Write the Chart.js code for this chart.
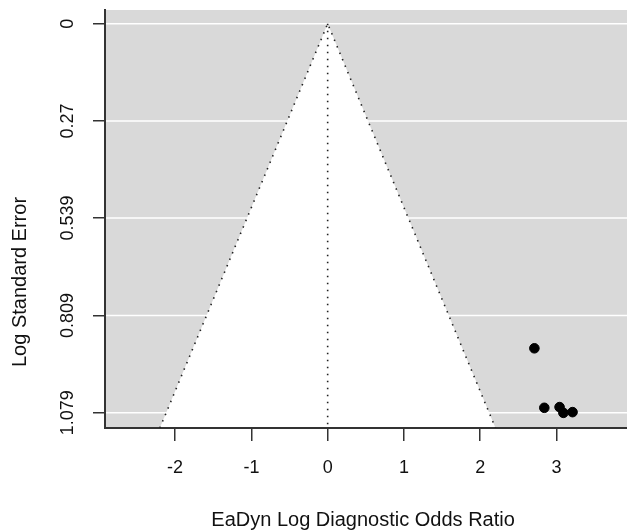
<!DOCTYPE html>
<html>
<head>
<meta charset="utf-8">
<script src="https://cdn.jsdelivr.net/npm/chart.js@4/dist/chart.umd.min.js"></script>
<style>
  html, body { margin: 0; padding: 0; background: #fff; }
  #wrap { width: 627px; height: 530px; }
</style>
</head>
<body>
<div id="wrap"><canvas id="grafico" width="627" height="530"></canvas></div>
<script>
// studies: log DOR vs standard error
const studyX = [2.71, 2.84, 3.04, 3.09, 3.21];
const studyY = [0.90, 1.065, 1.063, 1.079, 1.077];

// funnel edges and the centre line
const funnelX = [-2.2, 0, 2.2];
const funnelY = [1.121, 0, 1.121];
const centreX = [0, 0];
const centreY = [0, 1.121];

const xTicks = [-2, -1, 0, 1, 2, 3];
const yTicks = [0, 0.27, 0.539, 0.809, 1.079];
const yTickLabels = ['0', '0.27', '0.539', '0.809', '1.079'];

const xTitle = 'EaDyn Log Diagnostic Odds Ratio';
const yTitle = 'Log Standard Error';

const FONT = '"Liberation Sans", Arial, sans-serif';
const pts = (xs, ys) => xs.map((x, i) => ({ x: x, y: ys[i] }));

// gray panel (runs to the right edge of the canvas), white grid and funnel
const fondo = {
    id: 'fondo',
    beforeDraw(chart) {
        const { ctx, chartArea: a, scales: { x, y } } = chart;
        const right = chart.width;
        ctx.save();
        ctx.fillStyle = '#fff';
        ctx.fillRect(0, 0, chart.width, chart.height);
        ctx.fillStyle = '#d9d9d9';
        ctx.fillRect(a.left, a.top, right - a.left, a.bottom - a.top);
        ctx.strokeStyle = '#fff';
        ctx.lineWidth = 1.5;
        yTicks.forEach(v => {
            const py = y.getPixelForValue(v);
            ctx.beginPath();
            ctx.moveTo(a.left, py);
            ctx.lineTo(right, py);
            ctx.stroke();
        });
        ctx.beginPath();
        funnelX.forEach((v, i) => {
            const px = x.getPixelForValue(v), py = y.getPixelForValue(funnelY[i]);
            if (i === 0) ctx.moveTo(px, py); else ctx.lineTo(px, py);
        });
        ctx.closePath();
        ctx.fillStyle = '#fff';
        ctx.fill();
        ctx.restore();
    },
    afterDraw(chart) {
        const { ctx, chartArea: a, scales: { y } } = chart;
        ctx.save();
        ctx.strokeStyle = '#333';
        ctx.lineWidth = 2;
        ctx.beginPath();
        ctx.moveTo(a.right - 1, a.bottom);
        ctx.lineTo(chart.width, a.bottom);
        ctx.stroke();
        ctx.fillStyle = '#111';
        ctx.textAlign = 'center';
        ctx.textBaseline = 'middle';
        ctx.font = '18px ' + FONT;
        yTicks.forEach((v, i) => {
            ctx.save();
            ctx.translate(68, y.getPixelForValue(v));
            ctx.rotate(-Math.PI / 2);
            ctx.fillText(yTickLabels[i], 0, 0);
            ctx.restore();
        });
        ctx.font = '20px ' + FONT;
        ctx.translate(20, 282);
        ctx.rotate(-Math.PI / 2);
        ctx.fillText(yTitle, 0, 0);
        ctx.restore();
    }
};

const dotted = {
    type: 'line',
    borderColor: '#222',
    borderWidth: 1.6,
    borderDash: [1.5, 5.5],
    pointRadius: 0,
    fill: false,
    tension: 0
};

new Chart(document.getElementById('grafico').getContext('2d'), {
    type: 'scatter',
    data: {
        datasets: [
            Object.assign({ data: pts(funnelX, funnelY) }, dotted),
            Object.assign({ data: pts(centreX, centreY) }, dotted),
            {
                data: pts(studyX, studyY),
                backgroundColor: '#000',
                borderColor: '#000',
                pointRadius: 4.8,
                pointHoverRadius: 4.8
            }
        ]
    },
    options: {
        responsive: false,
        animation: false,
        events: [],
        layout: { padding: { top: 10, right: 0, left: 0, bottom: 0 } },
        plugins: { legend: { display: false }, tooltip: { enabled: false } },
        scales: {
            x: {
                type: 'linear',
                min: -2.919,
                max: 3.848,
                afterBuildTicks: s => { s.ticks = xTicks.map(v => ({ value: v })); },
                afterFit: s => { s.height = 102; },
                grid: { drawOnChartArea: false, tickLength: 13, color: '#333', lineWidth: 1.5 },
                border: { display: true, color: '#333', width: 2 },
                ticks: { color: '#111', font: { family: FONT, size: 18 }, padding: 16, maxRotation: 0 },
                title: { display: true, text: xTitle, color: '#111', font: { family: FONT, size: 20 }, padding: { top: 14, bottom: -2 } }
            },
            y: {
                type: 'linear',
                reverse: true,
                min: -0.038,
                max: 1.121,
                afterBuildTicks: s => { s.ticks = yTicks.map(v => ({ value: v })); },
                afterFit: s => { s.width = 105; },
                grid: { drawOnChartArea: false, color: '#333', lineWidth: 1.5, tickLength: 12 },
                border: { display: true, color: '#333', width: 2 },
                ticks: { display: false }
            }
        }
    },
    plugins: [fondo]
});
</script>
</body>
</html>
